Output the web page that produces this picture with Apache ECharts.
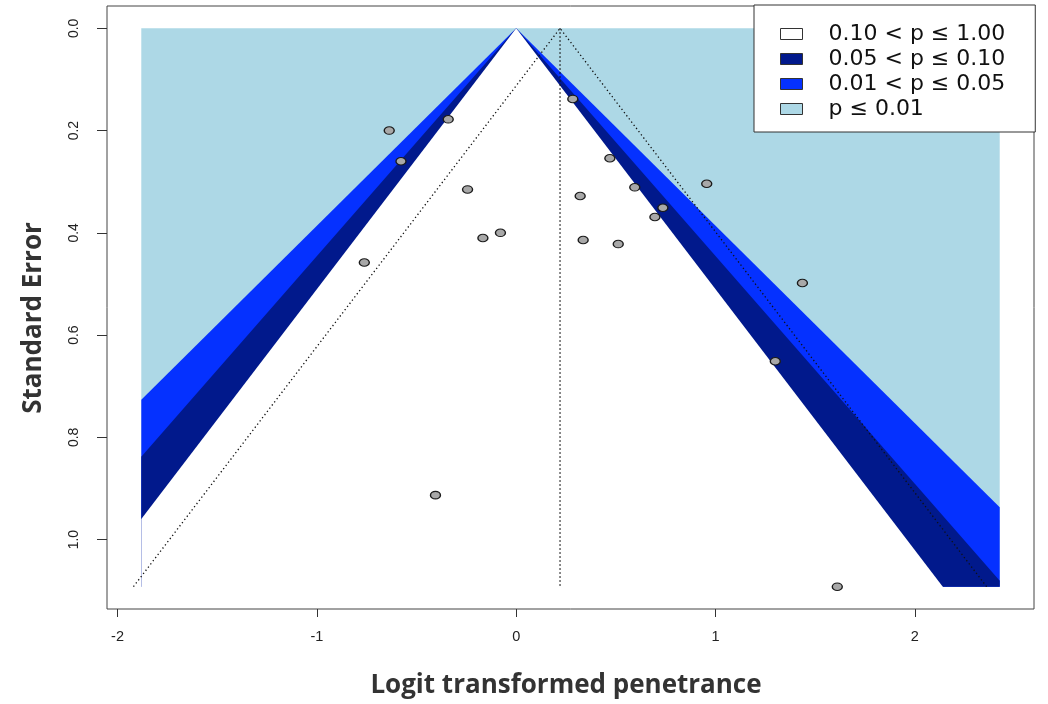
<!DOCTYPE html>
<html>
<head>
<meta charset="utf-8">
<script src="https://cdn.jsdelivr.net/npm/echarts@6/dist/echarts.min.js"></script>
<style>
  html, body { margin: 0; padding: 0; background: #fff; }
  #chart { width: 1048px; height: 704px; }
</style>
</head>
<body>
<div id="chart"></div>
<script>
// ---------- data ----------
const xTicks = [-2, -1, 0, 1, 2];
const yTicks = [0, 0.2, 0.4, 0.6, 0.8, 1.0];

// study estimates (logit transformed penetrance) and standard errors
const studyLogit = [-0.637, -0.341, -0.578, -0.244, -0.079, -0.167, -0.762, -0.405,
                    0.284, 0.470, 0.595, 0.321, 0.736, 0.696, 0.956, 0.336, 0.512,
                    1.436, 1.300, 1.611];
const studySE    = [0.200, 0.178, 0.260, 0.315, 0.400, 0.410, 0.458, 0.913,
                    0.138, 0.254, 0.311, 0.328, 0.351, 0.369, 0.304, 0.414, 0.422,
                    0.498, 0.651, 1.092];

const pooledEstimate = 0.22;
const ciZ = 1.96;

// contour regions (z multipliers of the boundaries)
const contourLabels = ['0.10 < p ≤ 1.00', '0.05 < p ≤ 0.10', '0.01 < p ≤ 0.05', 'p ≤ 0.01'];
const contourZ = [1.96, 2.245, 2.59];
const regionXRange = [-1.881, 2.426];
const maxSE = 1.092;

// ---------- build shapes ----------
const xMin = regionXRange[0], xMax = regionXRange[1];
function funnelPoly(k, bottom) {
  const b = bottom === undefined ? maxSE : bottom;
  const pts = [[0, 0]];
  const sL = -xMin / k;
  if (sL < b) { pts.push([xMin, sL], [xMin, b]); } else { pts.push([-k * b, b]); }
  const sR = xMax / k;
  if (sR < b) { pts.push([xMax, b], [xMax, sR]); } else { pts.push([k * b, b]); }
  return pts;
}
const rectPoly = [[xMin, 0], [xMin, maxSE], [xMax, maxSE], [xMax, 0]];

const colors = {
  white: '#ffffff',
  dark: '#01198C',
  blue: '#0531FF',
  light: '#ADD8E6'
};

function polySeries(name, poly, color) {
  return {
    type: 'custom',
    name: name,
    silent: true,
    itemStyle: { color: color },
    data: poly,
    renderItem: function (params, api) {
      if (params.dataIndex !== 0) return;
      const pts = poly.map(p => api.coord(p));
      return { type: 'polygon', shape: { points: pts }, style: { fill: color } };
    }
  };
}

const points = studyLogit.map((x, i) => [x, studySE[i]]);
const ciLines = [[pooledEstimate - ciZ * maxSE, maxSE], [pooledEstimate, 0], [pooledEstimate + ciZ * maxSE, maxSE]];
const pooledLine = [[pooledEstimate, 0], [pooledEstimate, maxSE]];

const dotted = { color: '#111', width: 1.3, type: [1.3, 2.7] };

const chart = echarts.init(document.getElementById('chart'), null, { renderer: 'canvas' });
chart.setOption({
  animation: false,
  backgroundColor: '#fff',
  grid: { left: 107, right: 14, top: 6, bottom: 95, show: true, borderColor: '#444', borderWidth: 1, backgroundColor: 'transparent' },
  xAxis: {
    type: 'value', min: -2.053, max: 2.598,
    axisLine: { show: false, onZero: false }, splitLine: { show: false },
    axisTick: { show: true, customValues: xTicks, length: 8, lineStyle: { color: '#333' } },
    axisLabel: { customValues: xTicks, margin: 20, fontSize: 14.5, color: '#222', fontFamily: 'Liberation Sans' }
  },
  yAxis: {
    type: 'value', inverse: true, min: -0.0437, max: 1.1357,
    axisLine: { show: false, onZero: false }, splitLine: { show: false },
    axisTick: { show: true, customValues: yTicks, length: 10, lineStyle: { color: '#333' } },
    axisLabel: { customValues: yTicks, rotate: 90, margin: 26, fontSize: 14, color: '#222', fontFamily: 'Liberation Sans',
                 formatter: v => v.toFixed(1) }
  },
  legend: {
    orient: 'vertical', left: 754, top: 5,
    padding: [16.5, 30, 10.5, 26],
    itemWidth: 22, itemHeight: 11, itemGap: 0,
    icon: 'rect', selectedMode: false,
    backgroundColor: '#fff', borderColor: '#333', borderWidth: 1,
    itemStyle: { borderColor: '#333', borderWidth: 1 },
    textStyle: { fontFamily: 'DejaVu Sans', fontSize: 22, color: '#111', lineHeight: 25, padding: [0, 0, 0, 21] },
    data: contourLabels
  },
  graphic: [
    { type: 'text', x: 34, y: 318, rotation: Math.PI / 2,
      style: { text: 'Standard Error', font: 'bold 26px "Open Sans"', fill: '#333', align: 'center', verticalAlign: 'middle', textAlign: 'center', textVerticalAlign: 'middle' } },
    { type: 'text', x: 566, y: 686,
      style: { text: 'Logit transformed penetrance', font: 'bold 26px "Open Sans"', fill: '#333', align: 'center', verticalAlign: 'middle', textAlign: 'center', textVerticalAlign: 'middle' } }
  ],
  series: [
    polySeries(contourLabels[3], rectPoly, colors.light),
    polySeries(contourLabels[2], funnelPoly(contourZ[2]), colors.blue),
    polySeries(contourLabels[1], funnelPoly(contourZ[1]), colors.dark),
    polySeries(contourLabels[0], funnelPoly(contourZ[0], maxSE + 0.004), colors.white),
    { type: 'line', data: ciLines, showSymbol: false, silent: true, lineStyle: dotted, z: 3 },
    { type: 'line', data: pooledLine, showSymbol: false, silent: true, lineStyle: dotted, z: 3 },
    { type: 'scatter', data: points, symbol: 'circle', symbolSize: [10, 7.5], z: 4,
      itemStyle: { color: '#A8A8A8', borderColor: '#1a1a1a', borderWidth: 1.2, opacity: 1 } }
  ]
});
</script>
</body>
</html>
